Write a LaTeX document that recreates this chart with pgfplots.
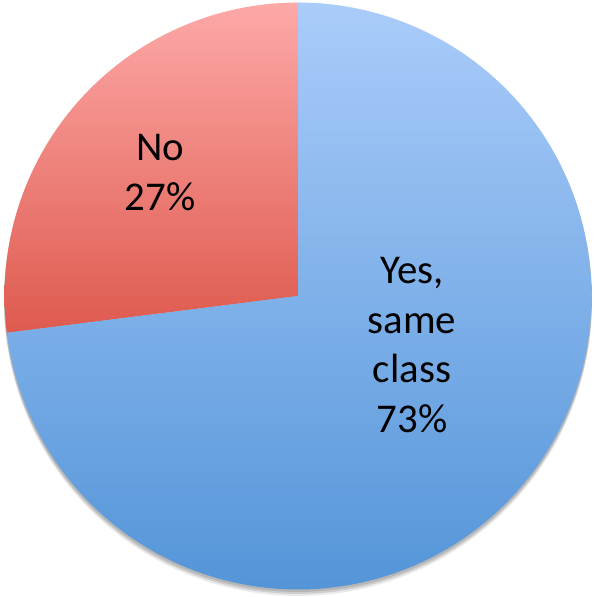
\documentclass[border=0pt]{standalone}
\usepackage{pgfplots}
\pgfplotsset{compat=1.18}
\usepackage{fontspec}
\setmainfont{Carlito}
\definecolor{redtop}{HTML}{FDA9A8}
\definecolor{redbot}{HTML}{DE5A4E}
\definecolor{bluetop}{HTML}{AACCFA}
\definecolor{bluebot}{HTML}{5495D8}
\def\valNo{27}
\def\valYes{73}
\begin{document}
\begin{tikzpicture}
\pgfmathsetmacro\aStart{90}
\pgfmathsetmacro\aMid{90+3.6*\valNo}
\pgfmathsetmacro\aEnd{\aMid+3.6*\valYes}
\begin{axis}[scale only axis, width=595bp, height=597bp,
  xmin=-298, xmax=297, ymin=-301, ymax=296,
  axis line style={draw=none}, ticks=none, clip=false]
% soft shadow
\addplot[draw=none, fill=black, opacity=0.12, domain=0:360, samples=180, variable=\t] ({294*cos(\t)},{294*sin(\t)-2});
\addplot[draw=none, fill=black, opacity=0.12, domain=0:360, samples=180, variable=\t] ({294*cos(\t)},{294*sin(\t)-4});
\addplot[draw=none, fill=black, opacity=0.08, domain=0:360, samples=180, variable=\t] ({294*cos(\t)},{294*sin(\t)-6});
% slices
\addplot[draw=none, top color=redtop, bottom color=redbot, domain=\aStart:\aMid, samples=80, variable=\t]
  ({293.5*cos(\t)},{293.5*sin(\t)}) -- (axis cs:0,0) -- cycle;
\addplot[draw=none, top color=bluetop, bottom color=bluebot, domain=\aMid:\aEnd, samples=200, variable=\t]
  ({293.5*cos(\t)},{293.5*sin(\t)}) -- (axis cs:0,0) -- cycle;
\node[align=center, font=\fontsize{41}{50}\selectfont] at (axis cs:-138,123.5) {No\\\valNo\%};
\node[align=center, font=\fontsize{41}{50}\selectfont] at (axis cs:114,-49) {Yes,\\same\\class\\\valYes\%};
\end{axis}
\end{tikzpicture}
\end{document}
